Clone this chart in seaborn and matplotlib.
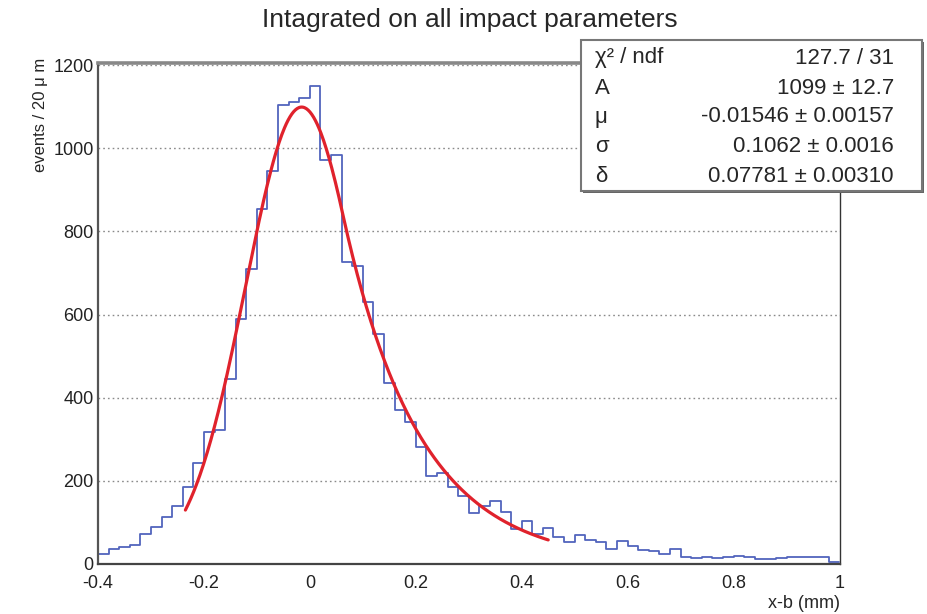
import numpy as np
import pandas as pd
import matplotlib
matplotlib.use("Agg")
import matplotlib.pyplot as plt
from matplotlib.patches import Rectangle
from matplotlib.ticker import MultipleLocator, FuncFormatter
import seaborn as sns

# Histogram binning: 20 um bins from -0.4 mm to 1.0 mm
x_min, x_max, n_bins = -0.4, 1.0, 70

# Events per 20 um bin
counts = [
    24, 35, 40, 45, 71, 88, 114, 139, 184, 242,
    318, 322, 444, 589, 709, 854, 945, 1105, 1110, 1122,
    1150, 972, 984, 727, 717, 629, 553, 435, 370, 342,
    282, 212, 218, 186, 164, 122, 140, 152, 126, 84,
    104, 72, 87, 64, 54, 70, 58, 54, 35, 55,
    44, 34, 31, 24, 35, 18, 14, 18, 14, 16,
    19, 16, 11, 13, 14, 16, 18, 16, 16, 5,
]

# Fit result: Gaussian core with an exponential tail on the right
fit_A = 1099.0
fit_mu = -0.01546
fit_sigma = 0.1062
fit_delta = 0.07781
fit_lo, fit_hi = -0.235, 0.45

stat_labels = ["\u03c7\u00b2 / ndf", "A", "\u03bc", "\u03c3", "\u03b4"]
stat_values = ["127.7 / 31", "1099 \u00b1 12.7", "-0.01546 \u00b1 0.00157",
               "0.1062 \u00b1 0.0016", "0.07781 \u00b1 0.00310"]

title = "Intagrated on all impact parameters"
xlabel = "x-b (mm)"
ylabel = "events / 20 \u03bc m"


def gauss_exp_tail(x, A, mu, sigma, delta):
    t = np.asarray(x) - mu
    core = np.exp(-t ** 2 / (2 * sigma ** 2))
    tail = np.exp(-delta * (2 * t - delta) / (2 * sigma ** 2))
    return A * np.where(t <= delta, core, tail)


sns.set_style("white")
plt.rcParams["font.family"] = ["Liberation Sans", "DejaVu Sans"]
plt.rcParams["axes.unicode_minus"] = False

W, H = 927, 614
fig = plt.figure(figsize=(W / 100, H / 100), dpi=100)
ax = fig.add_axes([98 / W, 1 - 564 / H, (839.5 - 98) / W, (564 - 63) / H])

edges = np.linspace(x_min, x_max, n_bins + 1)
hist_df = pd.DataFrame({"x": 0.5 * (edges[:-1] + edges[1:]),
                        "events": np.asarray(counts, dtype=float)})

sns.histplot(data=hist_df, x="x", weights="events", bins=edges.tolist(), element="step",
             fill=False, color="#5264bd", linewidth=1.3, ax=ax)

fit_df = pd.DataFrame({"x": np.linspace(fit_lo, fit_hi, 400)})
fit_df["f"] = gauss_exp_tail(fit_df["x"], fit_A, fit_mu, fit_sigma, fit_delta)
sns.lineplot(data=fit_df, x="x", y="f", color="#e0222c", linewidth=2.3, ax=ax)

ax.set_xlim(x_min, x_max)
ax.set_ylim(0, 1205)
ax.set_xlabel("")
ax.set_ylabel("")

ax.xaxis.set_major_locator(MultipleLocator(0.2))
ax.xaxis.set_minor_locator(MultipleLocator(0.05))
ax.yaxis.set_major_locator(MultipleLocator(200))
ax.yaxis.set_minor_locator(MultipleLocator(50))
ax.xaxis.set_major_formatter(FuncFormatter(lambda v, p: f"{v:g}" if abs(v) > 1e-9 else "0"))

ax.tick_params(axis="x", which="major", direction="in", length=9, width=1.2,
               labelsize=13, pad=8, colors="#333333", labelcolor="#222222")
ax.tick_params(axis="x", which="minor", direction="in", length=4.5, width=1.0, colors="#333333")
ax.tick_params(axis="y", which="major", direction="in", length=15, width=1.2,
               labelsize=13, pad=3, colors="#333333", labelcolor="#222222")
ax.tick_params(axis="y", which="minor", direction="in", length=7, width=1.0, colors="#333333")

ax.yaxis.grid(True, which="major", linestyle=(0, (1.2, 2.2)), color="#8a8a8a", linewidth=1.0)
ax.xaxis.grid(False)
ax.set_axisbelow(True)

for side, lw, col in [("left", 1.6, "#555555"), ("bottom", 1.6, "#444444"),
                      ("right", 1.0, "#333333"), ("top", 2.6, "#888888")]:
    ax.spines[side].set_linewidth(lw)
    ax.spines[side].set_color(col)

fig.text(470 / W, 1 - 20 / H, title, ha="center", va="center", fontsize=19)
fig.text(839.5 / W, 1 - 604 / H, xlabel, ha="right", va="center", fontsize=13)
fig.text(40 / W, 1 - 58 / H, ylabel, ha="center", va="top", rotation=90, fontsize=12)

# Statistics box with fit parameters
bx0, bx1, by0, by1 = 581, 922, 40, 191
fig.patches.append(Rectangle((bx0 / W + 1.5 / W, 1 - by1 / H - 1.5 / H), (bx1 - bx0) / W,
                             (by1 - by0) / H, transform=fig.transFigure, facecolor="#666666",
                             edgecolor="none", zorder=5, figure=fig))
fig.patches.append(Rectangle((bx0 / W, 1 - by1 / H), (bx1 - bx0) / W, (by1 - by0) / H,
                             transform=fig.transFigure, facecolor="white", edgecolor="#777777",
                             linewidth=1.5, zorder=6, figure=fig))
row_y = [58, 88, 117, 147, 176]
for lab, val, yy in zip(stat_labels, stat_values, row_y):
    fig.text(595 / W, 1 - yy / H, lab, ha="left", va="center", fontsize=16, zorder=7)
    fig.text(894 / W, 1 - yy / H, val, ha="right", va="center", fontsize=16, zorder=7)

fig.savefig("out.png", dpi=100)
